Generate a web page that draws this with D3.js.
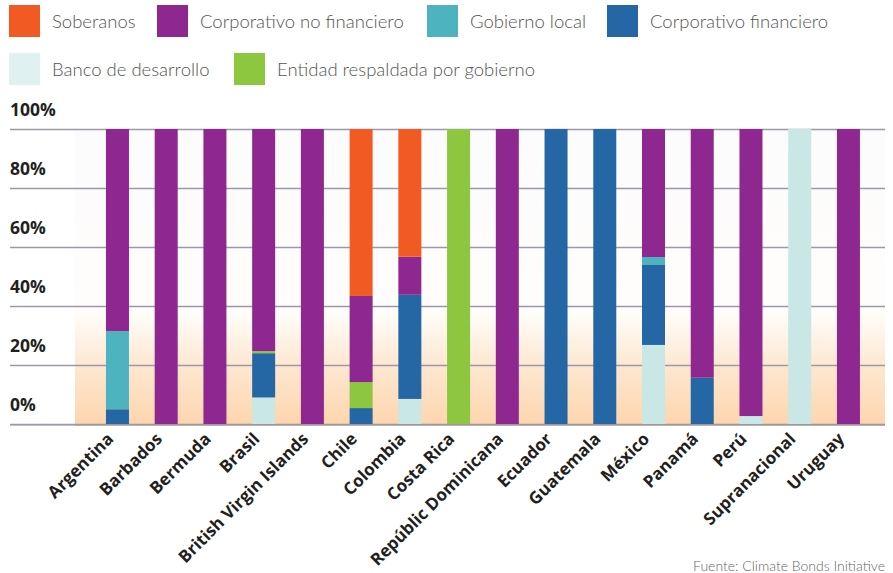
<!DOCTYPE html>
<html>
<head>
<meta charset="utf-8">
<script src="https://cdn.jsdelivr.net/npm/d3@7"></script>
<style>
  html, body { margin: 0; padding: 0; background: #ffffff; }
  svg { display: block; }
</style>
</head>
<body>
<svg id="chart" width="893" height="573"></svg>
<script>
// Green bond issuance by issuer type, share per country (%)
const categories = ["Argentina", "Barbados", "Bermuda", "Brasil", "British Virgin Islands", "Chile",
  "Colombia", "Costa Rica", "Repúblic Dominicana", "Ecuador", "Guatemala", "México", "Panamá",
  "Perú", "Supranacional", "Uruguay"];

const bancoDesarrollo    = [0, 0, 0, 9, 0, 0, 8.5, 0, 0, 0, 0, 26.8, 0, 2.7, 100, 0];
const corpFinanciero     = [5, 0, 0, 15, 0, 5.4, 35.3, 0, 0, 100, 100, 27.1, 15.7, 0, 0, 0];
const gobiernoLocal      = [26.5, 0, 0, 0, 0, 0, 0, 0, 0, 0, 0, 2.7, 0, 0, 0, 0];
const entidadRespaldada  = [0, 0, 0, 0.7, 0, 8.8, 0, 100, 0, 0, 0, 0, 0, 0, 0, 0];
const corpNoFinanciero   = [68.5, 100, 100, 75.3, 100, 29.2, 12.9, 0, 100, 0, 0, 43.4, 84.3, 97.3, 0, 100];
const soberanos          = [0, 0, 0, 0, 0, 56.6, 43.3, 0, 0, 0, 0, 0, 0, 0, 0, 0];

const yTicks = [0, 20, 40, 60, 80, 100];
const sourceNote = "Fuente: Climate Bonds Initiative";

// Series in stacking order (bottom to top)
const series = [
  { key: "bd",  name: "Banco de desarrollo",             values: bancoDesarrollo,   color: "#c9e7e5", legend: "#dff1f0" },
  { key: "cf",  name: "Corporativo financiero",          values: corpFinanciero,    color: "#2566a4" },
  { key: "gl",  name: "Gobierno local",                  values: gobiernoLocal,     color: "#4db3bf" },
  { key: "erg", name: "Entidad respaldada por gobierno", values: entidadRespaldada, color: "#8dc63f" },
  { key: "cnf", name: "Corporativo no financiero",       values: corpNoFinanciero,  color: "#8e278f" },
  { key: "sob", name: "Soberanos",                       values: soberanos,         color: "#f15a22" }
];

const svg = d3.select("#chart");

// ---- scales ----
const y = d3.scaleLinear().domain([0, 100]).range([424, 129]);
const x = d3.scaleBand().domain(categories).range([93.1, 872.8]).paddingInner(0.528).paddingOuter(0.264);

// ---- plot background: near-white fading into peach toward the baseline ----
const defs = svg.append("defs");
const grad = defs.append("linearGradient").attr("id", "bgGrad")
  .attr("gradientUnits", "userSpaceOnUse")
  .attr("x1", 0).attr("x2", 0).attr("y1", y(100)).attr("y2", y(0) + 2);
[[0, "#fdfcfc"], [0.58, "#fefdfc"], [0.62, "#fffdf9"], [0.8, "#fde7d0"], [1, "#fdd5ad"]]
  .forEach(([o, c]) => grad.append("stop").attr("offset", o).attr("stop-color", c));

svg.append("rect")
  .attr("x", 75).attr("y", y(100))
  .attr("width", 885 - 75).attr("height", y(0) + 2 - y(100))
  .attr("fill", "url(#bgGrad)");

// ---- gridlines and y labels ----
const grid = svg.append("g");
grid.selectAll("line").data(yTicks).join("line")
  .attr("x1", 10).attr("x2", 885)
  .attr("y1", d => y(d) + 0.5).attr("y2", d => y(d) + 0.5)
  .attr("stroke", "#9c99a6").attr("stroke-width", 1.4);

svg.append("g").selectAll("text").data(yTicks).join("text")
  .attr("x", 10).attr("y", d => y(d) - 13.5)
  .attr("font-family", "'Open Sans', 'Noto Sans', sans-serif")
  .attr("font-weight", 700).attr("font-size", 17.5)
  .attr("fill", "#231f20")
  .text(d => d + "%");

// ---- stacked bars ----
const table = categories.map((c, i) => {
  const row = { cat: c };
  series.forEach(s => row[s.key] = s.values[i]);
  return row;
});
const stack = d3.stack().keys(series.map(s => s.key))(table);

svg.append("g").selectAll("g").data(stack).join("g")
  .attr("fill", (d, i) => series[i].color)
  .selectAll("rect").data(d => d).join("rect")
  .attr("x", d => x(d.data.cat))
  .attr("width", x.bandwidth())
  .attr("y", d => y(d[1]))
  .attr("height", d => y(d[0]) - y(d[1]));

// baseline drawn over the bar feet
svg.append("line")
  .attr("x1", 10).attr("x2", 885)
  .attr("y1", y(0) + 0.7).attr("y2", y(0) + 0.7)
  .attr("stroke", "#9c99a6").attr("stroke-width", 1.4);

// ---- x labels, rotated ----
svg.append("g").selectAll("text").data(categories).join("text")
  .attr("transform", d => `translate(${x(d) + x.bandwidth() / 2 - 3},${y(0) + 16}) rotate(-45)`)
  .attr("text-anchor", "end")
  .attr("font-family", "'Open Sans', 'Noto Sans', sans-serif")
  .attr("font-weight", 700).attr("font-size", 17)
  .attr("fill", "#231f20")
  .text(d => d);

// ---- legend ----
const legendRows = [
  [{ k: "sob", x: 9 }, { k: "cnf", x: 157 }, { k: "gl", x: 427 }, { k: "cf", x: 607 }],
  [{ k: "bd", x: 9 }, { k: "erg", x: 234 }]
];
const legendTop = [5, 53];
const legend = svg.append("g");
legendRows.forEach((row, r) => {
  row.forEach(item => {
    const s = series.find(d => d.key === item.k);
    legend.append("rect")
      .attr("x", item.x).attr("y", legendTop[r])
      .attr("width", 31).attr("height", 32)
      .attr("fill", s.legend || s.color);
    legend.append("text")
      .attr("x", item.x + 43).attr("y", legendTop[r] + 16)
      .attr("dominant-baseline", "central")
      .attr("font-family", "Lato, 'Open Sans', sans-serif")
      .attr("font-weight", 300).attr("font-size", 18.5)
      .attr("fill", "#555555")
      .text(s.name);
  });
});

// ---- source note ----
svg.append("text")
  .attr("x", 885).attr("y", 571)
  .attr("text-anchor", "end")
  .attr("font-family", "Lato, 'Open Sans', sans-serif")
  .attr("font-weight", 300).attr("font-size", 14)
  .attr("fill", "#666666")
  .text(sourceNote);
</script>
</body>
</html>
